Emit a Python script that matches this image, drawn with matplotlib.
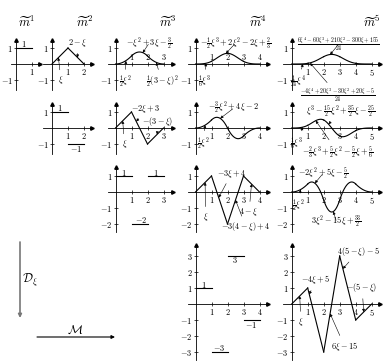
import numpy as np
import matplotlib
matplotlib.use("Agg")
import matplotlib.pyplot as plt

plt.rcParams["mathtext.fontset"] = "cm"
plt.rcParams["font.family"] = "serif"
plt.rcParams["font.serif"] = ["DejaVu Serif"]

# B-spline pieces: piece k lives on [k, k+1], coefficients in powers of xi (highest first)
m1_pieces = [[1.0]]
m2_pieces = [[1.0, 0.0], [-1.0, 2.0]]
m3_pieces = [[0.5, 0.0, 0.0], [-1.0, 3.0, -1.5], [0.5, -3.0, 4.5]]
m4_pieces = [[1/6, 0, 0, 0], [-1/2, 2, -2, 2/3], [1/2, -4, 10, -22/3], [-1/6, 2, -8, 32/3]]
m5_pieces = [[1/24, 0, 0, 0, 0],
             [-4/24, 20/24, -30/24, 20/24, -5/24],
             [6/24, -60/24, 210/24, -300/24, 155/24],
             [-4/24, 60/24, -330/24, 780/24, -655/24],
             [1/24, -20/24, 150/24, -500/24, 625/24]]
splines = [m1_pieces, m2_pieces, m3_pieces, m4_pieces, m5_pieces]

titles = [r"$\widetilde{m}^1$", r"$\widetilde{m}^2$", r"$\widetilde{m}^3$",
          r"$\widetilde{m}^4$", r"$\widetilde{m}^5$"]

# labels: (spline index, derivative order, text, text pos, arrow tip or None)
labels = [
    (0, 0, r"$1$", (0.5, 1.25), None),
    (1, 0, r"$2-\xi$", (1.6, 1.3), (1.6, 0.4)),
    (1, 0, r"$\xi$", (0.56, -1.0), (0.4, 0.4)),
    (2, 0, r"$-\xi^2+3\xi-\frac{3}{2}$", (2.1, 1.3), (1.7, 0.7)),
    (2, 0, r"$\frac{1}{2}\xi^2$", (0.6, -1.12), (0.65, 0.2)),
    (2, 0, r"$\frac{1}{2}(3-\xi)^2$", (2.9, -1.12), (2.55, 0.1)),
    (3, 0, r"$-\frac{1}{2}\xi^3+2\xi^2-2\xi+\frac{2}{3}$", (2.5, 1.3), (1.9, 0.66)),
    (3, 0, r"$\frac{1}{6}\xi^3$", (0.6, -1.12), (0.65, 0.05)),
    (4, 0, r"$\frac{6\xi^4-60\xi^3+210\xi^2-300\xi+155}{24}$", (2.95, 1.25), (2.4, 0.59)),
    (4, 0, r"$\frac{1}{24}\xi^4$", (0.4, -1.1), (0.7, 0.01)),
    (4, 0, r"$\frac{-4\xi^4+20\xi^3-30\xi^2+20\xi-5}{24}$", (2.9, -1.95), (1.15, 0.06)),
    (1, 1, r"$1$", (0.5, 1.25), None),
    (1, 1, r"$-1$", (1.5, -1.3), None),
    (2, 1, r"$-2\xi+3$", (1.9, 1.2), (1.3, 0.4)),
    (2, 1, r"$-(3-\xi)$", (2.65, 0.4), (2.6, -0.4)),
    (2, 1, r"$\xi$", (0.56, -1.0), (0.45, 0.45)),
    (3, 1, r"$-\frac{3}{2}\xi^2+4\xi-2$", (2.4, 1.25), (1.55, 0.6)),
    (3, 1, r"$\frac{1}{2}\xi^2$", (0.5, -0.95), (0.6, 0.18)),
    (4, 1, r"$\xi^3-\frac{15}{2}\xi^2+\frac{35}{2}\xi-\frac{25}{2}$", (3.1, 1.08), (2.3, 0.24)),
    (4, 1, r"$\frac{1}{6}\xi^3$", (0.3, -0.95), (0.7, 0.06)),
    (4, 1, r"$-\frac{2}{3}\xi^3+\frac{5}{2}\xi^2-\frac{5}{2}\xi+\frac{5}{6}$", (2.85, -1.48), (1.5, 0.46)),
    (2, 2, r"$1$", (0.5, 1.2), None),
    (2, 2, r"$1$", (2.5, 1.2), None),
    (2, 2, r"$-2$", (1.6, -1.75), None),
    (3, 2, r"$-3\xi+4$", (2.25, 1.15), (1.45, -0.35)),
    (3, 2, r"$\xi$", (0.63, -1.55), (0.6, 0.6)),
    (3, 2, r"$4-\xi$", (3.35, -1.23), (3.5, 0.5)),
    (3, 2, r"$-3(4-\xi)+4$", (3.15, -2.17), (2.5, -0.5)),
    (4, 2, r"$-2\xi^2+5\xi-\frac{5}{2}$", (1.97, 1.17), (1.45, 0.55)),
    (4, 2, r"$\frac{1}{2}\xi^2$", (0.45, -0.85), (0.55, 0.15)),
    (4, 2, r"$3\xi^2-15\xi+\frac{33}{2}$", (2.8, -1.85), (2.6, -1.22)),
    (3, 3, r"$1$", (0.5, 1.2), None),
    (3, 3, r"$3$", (2.45, 2.75), None),
    (3, 3, r"$-1$", (3.5, -1.3), None),
    (3, 3, r"$-3$", (1.5, -2.75), None),
    (4, 3, r"$-4\xi+5$", (1.5, 1.5), (1.1, 0.6)),
    (4, 3, r"$\xi$", (0.58, -1.1), (0.5, 0.5)),
    (4, 3, r"$4(5-\xi)-5$", (4.15, 3.27), (3.2, 2.2)),
    (4, 3, r"$-(5-\xi)$", (4.4, 1.0), (4.5, -0.5)),
    (4, 3, r"$6\xi-15$", (3.3, -2.63), (2.4, -0.6)),
]

W, H, U = 390, 364, 16.0
col_x = [16, 52, 115.5, 195.5, 291.7]
row_y = [64, 128, 192, 304]
col_xlim = [(-0.3, 1.5), (-0.55, 2.5), (-0.5, 3.6), (-0.5, 4.55), (-0.55, 5.5)]
row_ylim = [(-1.6, 1.5), (-1.6, 1.5), (-2.5, 1.55), (-3.5, 3.7)]
row_yticks = [[-1, 1], [-1, 1], [-2, -1, 1], [-3, -2, -1, 1, 2, 3]]
labels_above = [(2, 0), (3, 0)]

fig = plt.figure(figsize=(3.9, 3.64), dpi=100)
bg = fig.add_axes([0, 0, 1, 1])
bg.set_xlim(0, W)
bg.set_ylim(H, 0)
bg.axis("off")

for k, t in enumerate(titles):
    bg.text([27, 85, 168, 258, 372][k], 22, t, fontsize=9, ha="center", va="center")

axes = {}
for k, pieces in enumerate(splines):
    for r in range(len(pieces)):
        if r > 3:
            continue
        xl, yl = col_xlim[k], row_ylim[r]
        ox, oy = col_x[k], row_y[r]
        left = (ox + xl[0] * U) / W
        bottom = 1 - (oy - yl[0] * U) / H
        ax = fig.add_axes([left, bottom, (xl[1] - xl[0]) * U / W, (yl[1] - yl[0]) * U / H])
        ax.patch.set_visible(False)
        ax.set_xlim(xl)
        ax.set_ylim(yl)
        for s in ["top", "right"]:
            ax.spines[s].set_visible(False)
        for s in ["left", "bottom"]:
            ax.spines[s].set_position(("data", 0))
            ax.spines[s].set_linewidth(0.6)
        ax.plot(1, 0, ">k", ms=2.5, transform=ax.get_yaxis_transform(), clip_on=False)
        ax.plot(0, 1, "^k", ms=2.5, transform=ax.get_xaxis_transform(), clip_on=False)
        xt = list(range(1, len(pieces) + 1))
        ax.set_xticks(xt)
        ax.set_xticklabels([f"${v}$" for v in xt])
        yt = row_yticks[r]
        ax.set_yticks(yt)
        ax.set_yticklabels([f"${v}$" for v in yt])
        ax.tick_params(direction="inout", length=2.5, width=0.5, labelsize=6, pad=1)
        if (k, r) in labels_above:
            ax.tick_params(axis="x", labelbottom=False)
            for v in xt:
                ax.text(v, 0.12, f"${v}$", fontsize=6, ha="center", va="bottom")
        for i, c in enumerate(pieces):
            cc = np.polyder(c, r) if r > 0 else np.array(c)
            xs = np.linspace(i, i + 1, 60)
            ax.plot(xs, np.polyval(cc, xs), color="k", lw=0.8)
        axes[(k, r)] = ax

for k, r, txt, pos, tip in labels:
    ax = axes[(k, r)]
    if tip is None:
        ax.text(pos[0], pos[1], txt, fontsize=6, ha="center", va="center")
    else:
        ax.annotate(txt, xy=tip, xytext=pos, fontsize=6, ha="center", va="center",
                    arrowprops=dict(arrowstyle="-|>", lw=0.4, color="k",
                                    mutation_scale=4, shrinkA=1, shrinkB=0))

# operator arrows
bg.annotate("", xy=(20, 318), xytext=(20, 242),
            arrowprops=dict(arrowstyle="-|>", lw=1.2, color="#777777", mutation_scale=5, shrinkA=0, shrinkB=0))
bg.text(30, 280, r"$\mathcal{D}_\xi$", fontsize=9, ha="center", va="center")
bg.annotate("", xy=(115, 337), xytext=(37, 337),
            arrowprops=dict(arrowstyle="-|>", lw=0.8, color="k", mutation_scale=5, shrinkA=0, shrinkB=0))
bg.text(75, 330, r"$\mathcal{M}$", fontsize=9, ha="center", va="center")

fig.savefig("out.png", dpi=100)
